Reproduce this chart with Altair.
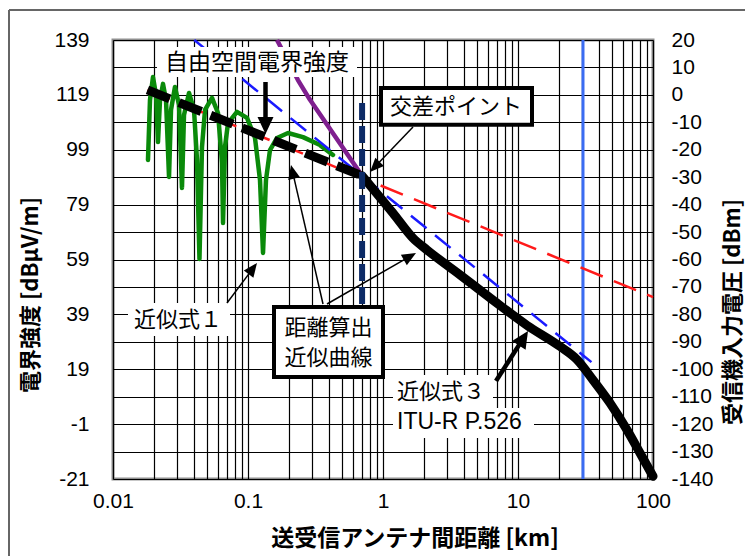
import math
import altair as alt
import pandas as pd

# ---------------- data ----------------
# approximation formula 1 (two-ray, green)
green_km = [0.01816, 0.01879, 0.01978, 0.02083, 0.02154, 0.02229, 0.02346, 0.02470,
            0.02600, 0.02690, 0.02878, 0.03083, 0.03243, 0.03357, 0.03656, 0.03981,
            0.04190, 0.0437, 0.04563, 0.04803, 0.05412, 0.05995, 0.06419, 0.0653,
            0.06753, 0.07109, 0.08287, 0.09831, 0.1127, 0.1227, 0.1292, 0.1359,
            0.1455, 0.164, 0.1979, 0.2555, 0.3415, 0.4263]
green_db = [95.3, 117.1, 125.5, 119.0, 101.8, 117.1, 123.0, 117.1,
            89.1, 113.5, 121.9, 115.3, 85.1, 111.7, 119.7, 113.5,
            95.3, 59.2, 100.0, 113.5, 117.9, 112.4, 94.2, 72.3,
            100.0, 108.7, 112.8, 110.6, 103.3, 88.0, 61.4, 88.0,
            98.9, 103.3, 105.1, 103.6, 100.7, 97.1]

# free-space field strength (red dashed)
free_km = [0.018, 100]
free_db = [120.8, 45.3]

# plane-earth line (blue dashed)
plane_km = [0.04, 35]
plane_db = [139, 21.6]

# steep curve (purple)
purple_km = [0.164, 0.2344, 0.2879, 0.7]
purple_db = [139, 124.4, 117.2, 89.5]

# distance-calculation approximation curve (black)
near_km = [0.018, 0.7]
near_db = [120.8, 89.5]
far_km = [0.7, 1.186, 1.668, 2.118, 3.719, 6.528, 11.66, 20.47, 27.35, 35.94,
          48.03, 64.18, 80.1, 100]
far_db = [89.5, 75.9, 66.8, 62.5, 53.4, 44.2, 35.0, 27.3, 22.5, 15.1,
          6.7, -3.1, -11.5, -20.0]

# vertical markers
cross_km = [0.7]
cross_top = [116]
cross_bot = [42]
limit_km = [30.3]
limit_top = [139]
limit_bot = [-21]

# axes
x_grid = [round(m * 10 ** e, 6) for e in range(-2, 2) for m in range(1, 10)] + [100]
left_vals = list(range(-21, 140, 10))
right_vals = list(range(-140, 21, 10))

# ---------------- layout ----------------
OX, OY = 113, 40
W, H = 540, 439
JP = "Noto Sans CJK JP"
LAT = "Liberation Sans"

def px(x):
    return x - OX

def py(y):
    return y - OY

xs = alt.Scale(type="log", domain=[0.01, 100], nice=False)
ys = alt.Scale(domain=[-21, 139], nice=False, zero=False)

xaxis = alt.Axis(values=x_grid, grid=True, gridColor="black", gridWidth=1.2,
                 format="~g", ticks=False, domain=False, title=None,
                 labelExpr="indexof([0.01,0.1,1,10,100], datum.value) >= 0 ? datum.label : ''",
                 labelFontSize=21, labelFont=LAT, labelColor="black",
                 labelPadding=11, labelFlush=False, labelOverlap=False, labelBound=False)
yaxis = alt.Axis(values=left_vals, grid=True, gridColor="black", gridWidth=1.2,
                 ticks=False, domain=False, title=None,
                 labelExpr="(datum.value + 21) % 20 == 0 ? toString(datum.value) : ''",
                 labelFontSize=21, labelFont=LAT, labelColor="black",
                 labelPadding=24, labelOverlap=False, labelFlush=False, labelBound=False)
raxis = alt.Axis(orient="right", values=right_vals, grid=False, ticks=False,
                 domain=False, title=None, labelFontSize=21, labelFont=LAT,
                 labelExpr="toString(datum.value)",
                 labelColor="black", labelPadding=18, labelOverlap=False,
                 labelFlush=False, labelBound=False)


def line(km, db, color, width, dash=None, cap="butt", interp="linear"):
    df = pd.DataFrame({"km": km, "db": db, "i": list(range(len(km)))})
    kw = dict(color=color, strokeWidth=width, strokeCap=cap, strokeJoin="round",
              interpolate=interp)
    if dash:
        kw["strokeDash"] = dash
    return alt.Chart(df).mark_line(**kw).encode(
        x=alt.X("km:Q", scale=xs, axis=xaxis),
        y=alt.Y("db:Q", scale=ys, axis=yaxis),
        order="i:Q")


def vrule(km, top, bot, color, width, dash=None):
    df = pd.DataFrame({"km": km, "top": top, "bot": bot})
    kw = dict(color=color, strokeWidth=width)
    if dash:
        kw["strokeDash"] = dash
    return alt.Chart(df).mark_rule(**kw).encode(
        x=alt.X("km:Q", scale=xs, axis=xaxis),
        y=alt.Y("top:Q", scale=ys, axis=yaxis),
        y2="bot:Q")


one = pd.DataFrame({"k": [0]})


def rect(x1, y1, x2, y2, fill="white", stroke=None, sw=0):
    kw = dict(fill=fill)
    if stroke:
        kw.update(stroke=stroke, strokeWidth=sw)
    else:
        kw.update(strokeWidth=0)
    return alt.Chart(one).mark_rect(**kw).encode(
        x=alt.value(px(x1)), x2=alt.value(px(x2)),
        y=alt.value(py(y1)), y2=alt.value(py(y2)))


def text(s, x, y, size=22, align="center", weight="normal", angle=0, font=JP):
    kw = dict(text=s, fontSize=size, align=align, baseline="middle",
              font=font, fontWeight=weight, color="black")
    if angle:
        kw["angle"] = angle
    return alt.Chart(one).mark_text(**kw).encode(
        x=alt.value(px(x)), y=alt.value(py(y)))


def seg(x1, y1, x2, y2, width, color="black"):
    return alt.Chart(one).mark_rule(color=color, strokeWidth=width, strokeCap="butt").encode(
        x=alt.value(px(x1)), x2=alt.value(px(x2)),
        y=alt.value(py(y1)), y2=alt.value(py(y2)))


def arrow(x1, y1, x2, y2, width, hl, hw):
    dx, dy = x2 - x1, y2 - y1
    L = math.hypot(dx, dy)
    bx, by = x2 - dx / L * (hl - 2), y2 - dy / L * (hl - 2)
    ang = math.degrees(math.atan2(dx, -dy)) % 360
    path = f"M0,0L{-hw},{hl}L{hw},{hl}Z"
    head = alt.Chart(one).mark_point(shape=path, size=4, filled=True, color="black",
                                     opacity=1, strokeWidth=0, angle=ang).encode(
        x=alt.value(px(x2)), y=alt.value(py(y2)))
    return [seg(x1, y1, bx, by, width), head]


layers = [
    vrule(limit_km, limit_top, limit_bot, "#3b6cf2", 3),
    line(green_km, green_db, "#0a8a0a", 4.5, cap="round"),
    line(free_km, free_db, "#ff1a1a", 2.5, dash=[24, 12]),
    line(plane_km, plane_db, "#1a1aff", 2.5, dash=[20, 11]),
    line(purple_km, purple_db, "#7f1f8f", 4.5),
    line(far_km, far_db, "black", 9, cap="round", interp="monotone"),
    line(near_km, near_db, "black", 9, dash=[24, 10]),
    vrule(cross_km, cross_top, cross_bot, "#0c2a66", 6, dash=[17, 6]),
    # annotation backgrounds
    rect(157, 47, 357, 77),
    rect(128, 303, 230, 336),
    rect(393, 375, 493, 408),
    rect(393, 408, 534, 438),
    rect(381, 88, 532, 124.7, stroke="black", sw=4),
    rect(274, 307, 383, 377, stroke="black", sw=4),
    # annotation texts
    text("自由空間電界強度", 257, 63, size=23),
    text("交差ポイント", 456, 107),
    text("近似式１", 134, 320, align="left"),
    text("距離算出", 328.5, 328),
    text("近似曲線", 328.5, 358),
    text("近似式３", 397, 392, align="left"),
    text("ITU-R P.526", 397, 422, align="left", font=LAT, size=23),
]
layers += arrow(265.5, 82, 265.5, 134, 4.5, 17, 8)
layers += arrow(413, 127, 370, 172, 1.5, 14, 6)
layers += arrow(227, 303, 257, 263, 1.5, 14, 6)
layers += arrow(323, 304, 291, 165, 1.5, 14, 6)
layers += arrow(327, 304, 416, 253, 1.5, 14, 6)
layers += arrow(496, 381, 528, 331, 4.5, 17, 8)
layers += [
    # axis titles
    text("送受信アンテナ間距離 [km]", 415, 539, size=23, weight="bold"),
    text("電界強度 [dBμV/m]", 31, 295, size=22, weight="bold", angle=270),
    text("受信機入力電圧 [dBm]", 733, 312, size=22, weight="bold", angle=270),
    # outer frame
    seg(9, 10, 760, 10, 2, "#666666"),
    seg(9, 10, 9, 570, 2, "#666666"),
]

left = alt.layer(*layers)

right_df = pd.DataFrame({"km": [0.01, 0.01], "v": [-140, 20]})
right = alt.Chart(right_df).mark_point(opacity=0).encode(
    x=alt.X("km:Q", scale=xs, axis=xaxis),
    y=alt.Y("v:Q", scale=alt.Scale(domain=[-140, 20], nice=False, zero=False), axis=raxis))

chart = alt.layer(left, right).resolve_scale(y="independent").properties(
    width=W, height=H,
    autosize=alt.AutoSizeParams(type="none"),
    padding={"left": OX, "top": OY, "right": 745 - OX - W, "bottom": 556 - OY - H},
    background="white",
).configure_view(stroke="#8f8f8f", strokeWidth=3)

chart.save("out.html", embed_options={"renderer": "svg", "actions": False})
